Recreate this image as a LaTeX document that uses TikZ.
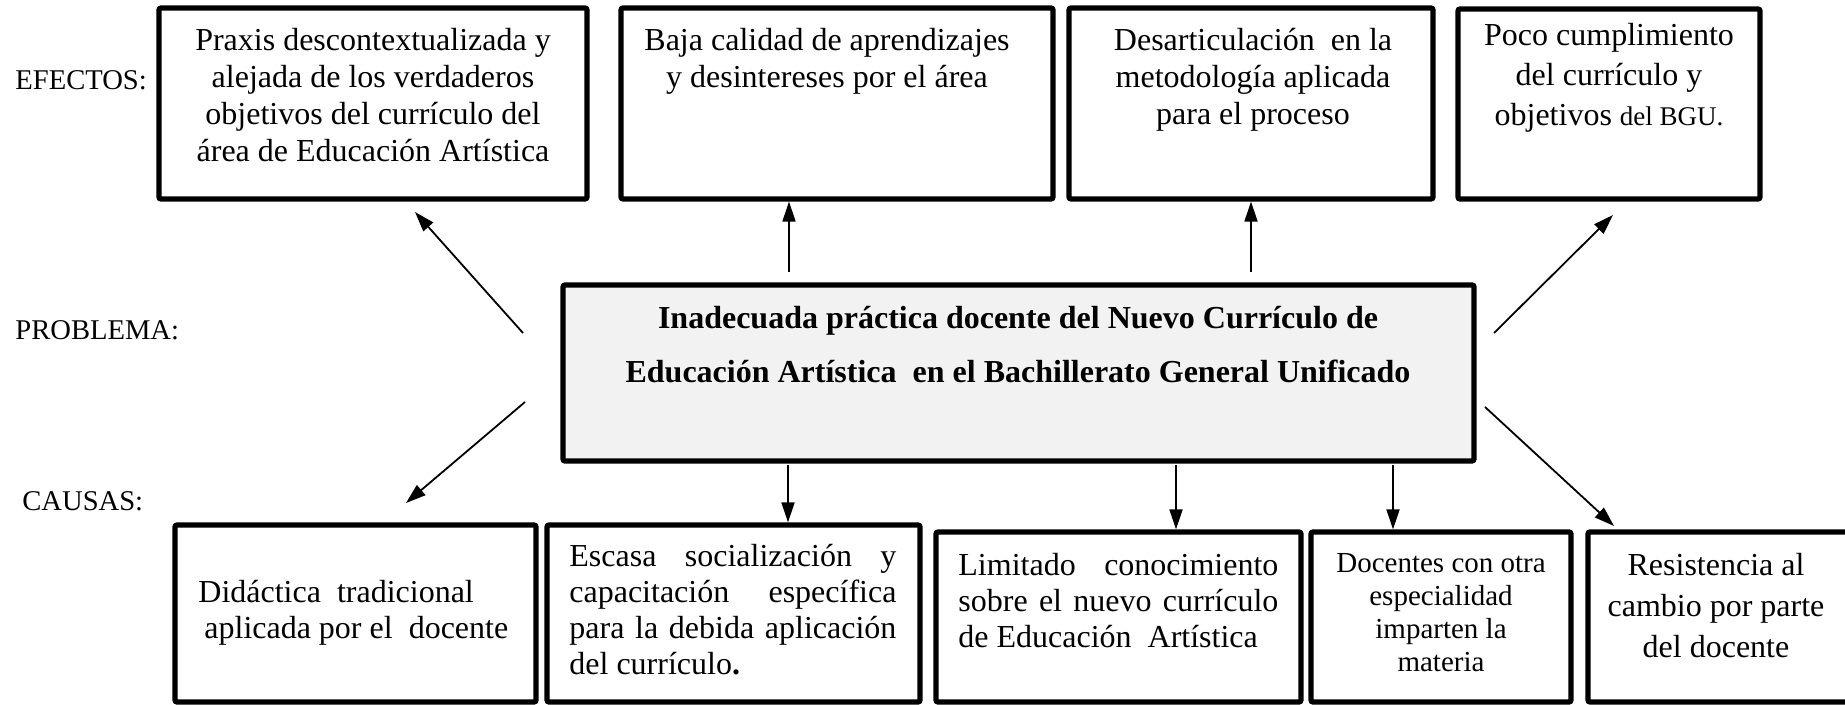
\documentclass[tikz,border=0pt]{standalone}
\usepackage{fontspec}
\setmainfont{Liberation Serif}
\usetikzlibrary{arrows.meta,fit}
\newcommand\fl{\rule{0pt}{12pt}}
\newcommand\bxf{\fontsize{16}{18.5}\selectfont}
\newcommand\lbf{\fontsize{14.3}{17}\selectfont}
\newcommand\ctf{\fontsize{16}{27}\selectfont\bfseries}
\begin{document}
\begin{tikzpicture}[x=0.5pt,y=-0.5pt,
  box/.style={draw=black, line width=2.6pt, rounded corners=1pt, inner sep=0pt},
  cbox/.style={box, fill=black!5},
  txt/.style={inner sep=0pt, align=center, anchor=north, font=\bxf},
  txtl/.style={inner sep=0pt, align=left, anchor=north west, font=\bxf},
  lab/.style={anchor=base west, inner sep=0pt, font=\lbf},
  arr/.style={line width=0.9pt, -{Triangle[length=10pt,width=6.5pt]}}]
\useasboundingbox (0,0) rectangle (1845,705);
% labels
\node[lab] (lef) at (15,90) {EFECTOS:};
\node[lab] (lpr) at (15,340) {PROBLEMA:};
\node[lab] (lca) at (22,510) {CAUSAS:};
% top boxes
\node[box, fit={(159,8) (587,199)}] (t1) {};
\node[box, fit={(621,8) (1053,199)}] (t2) {};
\node[box, fit={(1069,8) (1433,199)}] (t3) {};
\node[box, fit={(1458,9) (1760,199)}] (t4) {};
% central box
\node[cbox, fit={(563,285) (1474,461)}] (p) {};
% bottom boxes
\node[box, fit={(175,525) (536,702)}] (b1) {};
\node[box, fit={(547,525) (920,702)}] (b2) {};
\node[box, fit={(936,532) (1301,702)}] (b3) {};
\node[box, fit={(1311,532) (1571,702)}] (b4) {};
\node[box, fit={(1588,532) (1856,702)}] (b5) {};
% texts
\node[txt] (t1x) at (373,26) {\fl Praxis descontextualizada y\\alejada de los verdaderos\\objetivos del currículo del\\área de Educación Artística};
\node[txt] (t2x) at (827,26) {\fl Baja calidad de aprendizajes\\y desintereses por el área};
\node[txt] (t3x) at (1253,26) {\fl Desarticulación\ \ en la\\metodología aplicada\\para el proceso};
\node[txt, font=\fontsize{16}{20}\selectfont] (t4x) at (1609,21) {\fl Poco cumplimiento\\del currículo y\\objetivos {\fontsize{13.5}{20}\selectfont del BGU.}};
\node[txt, font=\ctf] (px) at (1018,304) {\fl Inadecuada práctica docente del Nuevo Currículo de\\Educación Artística\ \ en el Bachillerato General Unificado};
\node[txtl, font=\fontsize{16}{18}\selectfont] (b1x) at (198,578) {\fl Didáctica\ \ tradicional\\\hspace*{3pt}aplicada por el\ \ docente};
\node[txtl, font=\fontsize{16}{18}\selectfont] (b2x) at (569,542) {\fl\makebox[163.5pt][s]{Escasa socialización y}\\\makebox[163.5pt][s]{capacitación específica}\\\makebox[163.5pt][s]{para la debida aplicación}\\del currículo{\bfseries .}};
\node[txtl, font=\fontsize{16}{18}\selectfont] (b3x) at (958,551) {\fl\makebox[160pt][s]{Limitado conocimiento}\\\makebox[160pt][s]{sobre el nuevo currículo}\\de Educación\ \ Artística};
\node[txt, font=\fontsize{14.5}{16.5}\selectfont] (b4x) at (1441,548) {\fl Docentes con otra\\especialidad\\imparten la\\materia};
\node[txt, font=\fontsize{16}{20.5}\selectfont] (b5x) at (1716,551) {\fl Resistencia al\\cambio por parte\\del docente};
% arrow coordinates
\coordinate (a1s) at (523,333); \coordinate (a1e) at (415,212);
\coordinate (a2s) at (789,272);
\coordinate (a3s) at (1251,272);
\coordinate (a4s) at (1494,333); \coordinate (a4e) at (1613,215);
\coordinate (d1s) at (525,402); \coordinate (d1e) at (406,503);
\coordinate (d2s) at (788,465);
\coordinate (d3s) at (1176,465);
\coordinate (d4s) at (1393,465);
\coordinate (d5s) at (1485,407); \coordinate (d5e) at (1614,526);
% arrows
\draw[arr] (a1s) -- (a1e);
\draw[arr] (a2s) -- (a2s |- t2.south);
\draw[arr] (a3s) -- (a3s |- t3.south);
\draw[arr] (a4s) -- (a4e);
\draw[arr] (d1s) -- (d1e);
\draw[arr] (d2s) -- (d2s |- b2.north);
\draw[arr] (d3s) -- (d3s |- b3.north);
\draw[arr] (d4s) -- (d4s |- b4.north);
\draw[arr] (d5s) -- (d5e);
\end{tikzpicture}
\end{document}
